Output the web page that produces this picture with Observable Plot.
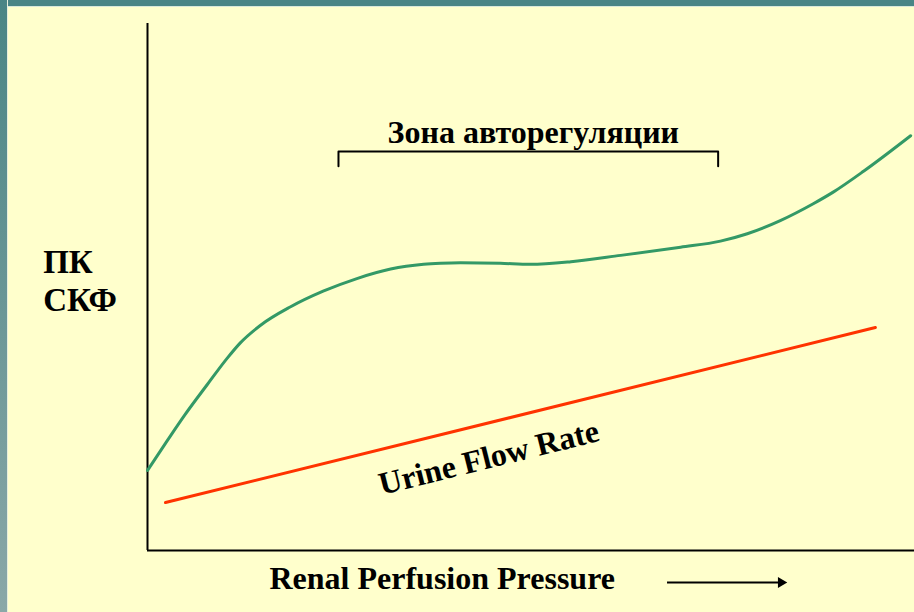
<!DOCTYPE html>
<html>
<head>
<meta charset="utf-8">
<script src="https://cdn.jsdelivr.net/npm/d3@7"></script>
<script src="https://cdn.jsdelivr.net/npm/@observablehq/plot@0.6"></script>
<style>
  html, body { margin: 0; padding: 0; background: #FFFFCC; }
  #wrap { position: relative; width: 914px; height: 612px; overflow: hidden; background: #FFFFCC; }
  #top { position: absolute; left: 0; top: 0; width: 914px; height: 6px; background: #4A8585; border-bottom: 1px solid #D9E8DA; }
  #left { position: absolute; left: 0; top: 0; width: 7px; height: 612px; background: linear-gradient(#4A8585, #8AA8A8); border-right: 1px solid #E6EEDC; }
  #chart { position: absolute; left: 0; top: 0; }
  #chart svg { background: transparent; }
</style>
</head>
<body>
<div id="wrap"><div id="top"></div><div id="left"></div><div id="chart"></div></div>
<script>
// Renal perfusion pressure (relative units, 0–100)
const gfrPressure = [0, 2.6, 4.8, 7.8, 10.4, 12.1, 14.7, 18.6, 22.9, 27.3, 31.7, 36.0, 38.2, 40.8, 46.0, 49.9, 55.2, 61.7, 69.5, 74.7, 78.2, 82.5, 86.8, 89.4, 93.4, 99.5];
// Renal blood flow / GFR (relative units)
const gfrValue = [15.2, 20.9, 25.6, 31.5, 36.5, 39.4, 42.7, 46.2, 49.2, 51.6, 53.4, 54.3, 54.5, 54.6, 54.5, 54.3, 54.8, 56.0, 57.55, 58.7, 60.1, 62.6, 65.8, 68.0, 72.0, 78.7];
// Urine flow rate
const urinePressure = [2.35, 94.9];
const urineValue = [9.1, 42.3];
// Autoregulation zone
const zoneRange = [24.9, 74.4];
const zoneLevel = 75.7;
const zoneTick = 2.8;
const zoneLabel = "Зона авторегуляции";
const yLabel = ["ПК", "СКФ"];
const yLabelPos = [54.6, 47.4];
const xLabel = "Renal Perfusion Pressure";
const urineLabel = "Urine Flow Rate";
const arrowRange = [67.8, 82.6];

const gfr = gfrPressure.map((x, i) => ({x, y: gfrValue[i]}));
const urine = urinePressure.map((x, i) => ({x, y: urineValue[i]}));
const bracket = [
  {x: zoneRange[0], y: zoneLevel - zoneTick},
  {x: zoneRange[0], y: zoneLevel},
  {x: zoneRange[1], y: zoneLevel},
  {x: zoneRange[1], y: zoneLevel - zoneTick}
];
const urineMidX = 44.5;
const urineMidY = urineValue[0] + (urineMidX - urinePressure[0]) / (urinePressure[1] - urinePressure[0]) * (urineValue[1] - urineValue[0]);

const font = "'Liberation Serif', 'Times New Roman', Times, serif";

const chart = Plot.plot({
  width: 914,
  height: 612,
  marginLeft: 147,
  marginRight: 0,
  marginTop: 23,
  marginBottom: 62,
  x: {domain: [0, 100], axis: null},
  y: {domain: [0, 100], axis: null},
  style: {background: "transparent", fontFamily: font},
  marks: [
    Plot.ruleX([0], {stroke: "black", strokeWidth: 2}),
    Plot.ruleY([0], {stroke: "black", strokeWidth: 2}),
    Plot.line(gfr, {x: "x", y: "y", curve: "monotone-x", stroke: "#339966", strokeWidth: 3}),
    Plot.line(urine, {x: "x", y: "y", stroke: "#FF3300", strokeWidth: 3}),
    Plot.line(bracket, {x: "x", y: "y", stroke: "black", strokeWidth: 2}),
    Plot.text([zoneLabel], {x: (zoneRange[0] + zoneRange[1]) / 2, y: zoneLevel, dx: 5, dy: -19, fontSize: 32, fontWeight: "bold", fill: "black", fontFamily: font}),
    Plot.text([urineLabel], {x: urineMidX, y: urineMidY, dy: 35, rotate: -14, fontSize: 32, fontWeight: "bold", fill: "black", fontFamily: font}),
    Plot.text(yLabel, {x: -13.6, y: yLabelPos, textAnchor: "start", fontSize: 33, fontWeight: "bold", fill: "black", fontFamily: font}),
    Plot.text([xLabel], {frameAnchor: "bottom-left", dx: 122, dy: 38, textAnchor: "start", fontSize: 32, fontWeight: "bold", fill: "black", fontFamily: font}),
    Plot.ruleY([0], {x1: arrowRange[0], x2: arrowRange[1], dy: 32, stroke: "black", strokeWidth: 2}),
    Plot.dot([0], {x: arrowRange[1], y: 0, dy: 32, symbol: "triangle", rotate: 90, r: 4, fill: "black", stroke: "none"})
  ]
});
document.getElementById("chart").appendChild(chart);
</script>
</body>
</html>
